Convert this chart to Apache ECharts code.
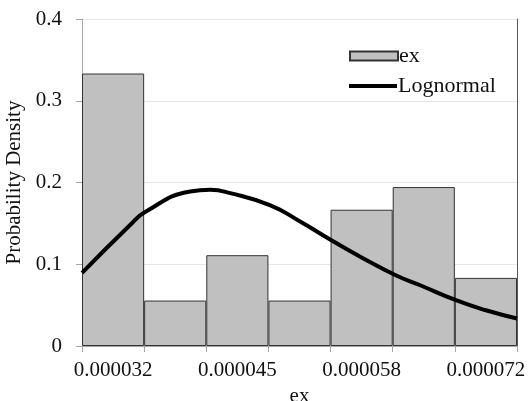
<!DOCTYPE html>
<html>
<head>
<meta charset="utf-8">
<script src="https://cdn.jsdelivr.net/npm/echarts@6/dist/echarts.min.js"></script>
<style>
  html, body { margin: 0; padding: 0; background: #fff; }
  #chart { width: 529px; height: 401px; }
</style>
</head>
<body>
<div id="chart"></div>
<script>
// Histogram bins (bin centres) and their probability densities
var binLabels = ['0.000032', '0.000038', '0.000045', '0.000052', '0.000058', '0.000065', '0.000072'];
var densities = [0.3333, 0.0556, 0.1111, 0.0556, 0.1667, 0.1944, 0.0833];

// Histogram range (outer edges of first and last bin)
var rangeMin = 0.000028667;
var rangeMax = 0.000075333;

// Fitted lognormal density sampled along the range
var fitX = [0.00002867, 0.00003383, 0.00003544, 0.00004028, 0.00004243, 0.00004458,
            0.00004888, 0.00005211, 0.00005533, 0.00005856, 0.00006232, 0.00006501,
            0.00006878, 0.0000720, 0.00007533];
var fitY = [0.0895, 0.148, 0.164, 0.189, 0.191, 0.187,
            0.172, 0.152, 0.130, 0.109, 0.0866, 0.074,
            0.056, 0.0437, 0.0336];

// Y-axis ticks
var yMin = 0, yMax = 0.4, yStep = 0.1;

var fitData = fitX.map(function (x, i) { return [x, fitY[i]]; });
var font = 'Liberation Serif';

var chart = echarts.init(document.getElementById('chart'));
chart.setOption({
  animation: false,
  backgroundColor: '#ffffff',
  textStyle: { fontFamily: font, color: '#222' },
  grid: { left: 82, right: 12, top: 19, bottom: 55, containLabel: false, outerBoundsMode: 'none' },
  legend: [{
    data: ['ex'],
    left: 344, top: 40,
    icon: 'rect', itemWidth: 48, itemHeight: 9, itemGap: 6,
    textStyle: { fontFamily: font, fontSize: 22, color: '#111', padding: [0, 0, 0, -4] }
  }, {
    data: ['Lognormal'],
    left: 344, top: 70,
    icon: 'rect', itemWidth: 48, itemHeight: 4, itemGap: 6,
    itemStyle: { color: '#000' },
    textStyle: { fontFamily: font, fontSize: 22, color: '#111', padding: [0, 0, 0, -4] }
  }],
  xAxis: [{
    type: 'category',
    data: binLabels,
    boundaryGap: true,
    name: 'ex',
    nameLocation: 'middle',
    nameGap: 35,
    nameTextStyle: { fontFamily: font, fontSize: 21, color: '#111' },
    axisLine: { lineStyle: { color: '#a6a6a6', width: 1 } },
    axisTick: { show: true, interval: 0, length: 6, lineStyle: { color: '#a6a6a6' } },
    axisLabel: { interval: 1, margin: 14, fontFamily: font, fontSize: 21, color: '#111' },
    splitLine: { show: false }
  }, {
    type: 'value',
    min: rangeMin,
    max: rangeMax,
    show: false
  }],
  yAxis: [{
    type: 'value',
    min: yMin, max: yMax, interval: yStep,
    name: 'Probability Density',
    nameLocation: 'middle',
    nameGap: 49,
    nameTextStyle: { fontFamily: font, fontSize: 21, color: '#111' },
    axisLine: { show: true, lineStyle: { color: '#a6a6a6', width: 1 } },
    axisTick: { show: true, length: 6, lineStyle: { color: '#a6a6a6' } },
    axisLabel: {
      margin: 20, fontFamily: font, fontSize: 21, color: '#111',
      formatter: function (v) { return v === 0 ? '0' : v.toFixed(1); }
    },
    splitLine: { show: true, lineStyle: { color: '#e6e6e6', width: 1 } }
  }, {
    type: 'value',
    position: 'right',
    min: yMin, max: yMax,
    axisLine: { show: true, lineStyle: { color: '#595959', width: 1 } },
    axisTick: { show: false },
    axisLabel: { show: false },
    splitLine: { show: false }
  }],
  series: [{
    name: 'ex',
    type: 'bar',
    data: densities,
    barCategoryGap: 0,
    itemStyle: { color: '#c0c0c0', borderColor: '#333', borderWidth: 1 }
  }, {
    name: 'Lognormal',
    type: 'line',
    xAxisIndex: 1,
    data: fitData,
    smooth: true,
    showSymbol: false,
    symbol: 'none',
    lineStyle: { color: '#000', width: 4 },
    itemStyle: { color: '#000' }
  }]
});
</script>
</body>
</html>
